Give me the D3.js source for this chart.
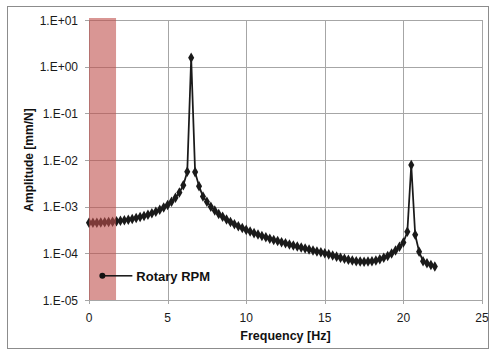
<!DOCTYPE html>
<html>
<head>
<meta charset="utf-8">
<script src="https://cdn.jsdelivr.net/npm/d3@7"></script>
<style>
body{margin:0;background:#fff;}
text{font-family:"Liberation Sans",Arial,sans-serif;}
</style>
</head>
<body>
<svg width="495" height="353"></svg>
<script>
// frequency [Hz] and amplitude [mm/N]
var freq = [0,0.25,0.5,0.75,1,1.25,1.5,1.75,2,2.25,2.5,2.75,3,3.25,3.5,3.75,4,4.25,4.5,4.75,
	5,5.25,5.5,5.75,6,6.25,6.5,6.75,7,7.25,7.5,7.75,8,8.25,8.5,8.75,9,9.25,9.5,9.75,
	10,10.25,10.5,10.75,11,11.25,11.5,11.75,12,12.25,12.5,12.75,13,13.25,13.5,13.75,14,14.25,14.5,14.75,
	15,15.25,15.5,15.75,16,16.25,16.5,16.75,17,17.25,17.5,17.75,18,18.25,18.5,18.75,19,19.25,19.5,19.75,
	20,20.25,20.5,20.75,21,21.25,21.5,21.75,22];
var amp = [4.50e-4,4.51e-4,4.53e-4,4.56e-4,4.61e-4,4.67e-4,4.75e-4,4.85e-4,4.97e-4,5.11e-4,5.27e-4,5.47e-4,5.70e-4,5.98e-4,6.31e-4,6.71e-4,7.20e-4,7.81e-4,8.57e-4,9.55e-4,
	1.09e-3,1.27e-3,1.55e-3,2.01e-3,2.89e-3,5.6e-3,1.55,5.5e-3,2.75e-3,1.65e-3,1.27e-3,1.0e-3,8.3e-4,7.0e-4,6.05e-4,5.3e-4,4.7e-4,4.22e-4,3.82e-4,3.48e-4,
	3.18e-4,2.93e-4,2.71e-4,2.52e-4,2.35e-4,2.2e-4,2.06e-4,1.94e-4,1.83e-4,1.73e-4,1.64e-4,1.55e-4,1.47e-4,1.4e-4,1.33e-4,1.27e-4,1.21e-4,1.15e-4,1.1e-4,1.05e-4,
	1.0e-4,9.5e-5,9.0e-5,8.5e-5,8.05e-5,7.65e-5,7.3e-5,7.0e-5,6.8e-5,6.65e-5,6.6e-5,6.65e-5,6.8e-5,7.05e-5,7.45e-5,8.0e-5,8.8e-5,9.9e-5,1.15e-4,1.38e-4,
	1.7e-4,2.9e-4,7.8e-3,2.5e-4,1.08e-4,6.8e-5,6.1e-5,5.6e-5,5.2e-5];
var xTicks = [0,5,10,15,20,25];
var yTicks = [1e-5,1e-4,1e-3,1e-2,1e-1,1e0,1e1];
var yTickLabels = ["1.E-05","1.E-04","1.E-03","1.E-02","1.E-01","1.E+00","1.E+01"];
var rpmBand = [0,1.72];       // rotary RPM range [Hz]
var rpmLabel = "Rotary RPM";
var rpmPoint = [0.85,3.3e-5]; // where the label's dot sits

var svg = d3.select('svg');
var margin = {left:89,right:13,top:20,bottom:53};
var width = +svg.attr('width');
var height = +svg.attr('height');
var innerwidth = width - margin.left - margin.right;
var innerheight = height - margin.top - margin.bottom;

render = () =>{
	var data = freq.map((f,i) => ({f:f, a:amp[i]}));

	var xscale = d3.scaleLinear().domain([0,25]).range([0,innerwidth]);
	var yscale = d3.scaleLog().domain([1e-5,1e1]).range([innerheight,0]);

	// chart border
	svg.append('rect').attr('x',7.5).attr('y',6.5).attr('width',481).attr('height',342)
		.attr('fill','none').attr('stroke','#8c8c8c');

	var g = svg.append('g').attr('transform',`translate(${margin.left},${margin.top})`);

	// gridlines
	g.append('g').selectAll('line').data(yTicks).enter().append('line')
		.attr('x1',-4).attr('x2',innerwidth)
		.attr('y1',d => Math.round(yscale(d))+0.5).attr('y2',d => Math.round(yscale(d))+0.5)
		.attr('stroke','#a6a6a6');
	g.append('g').selectAll('line').data(xTicks).enter().append('line')
		.attr('x1',d => Math.round(xscale(d))+0.5).attr('x2',d => Math.round(xscale(d))+0.5)
		.attr('y1',0).attr('y2',innerheight+4)
		.attr('stroke','#a6a6a6');

	// tick labels
	g.append('g').selectAll('text').data(yTicks).enter().append('text')
		.attr('x',-11).attr('y',d => yscale(d)+4.5)
		.attr('text-anchor','end').attr('font-size','12px').attr('fill','#1a1a1a')
		.text((d,i) => yTickLabels[i]);
	g.append('g').selectAll('text').data(xTicks).enter().append('text')
		.attr('x',d => xscale(d)).attr('y',innerheight+22)
		.attr('text-anchor','middle').attr('font-size','12px').attr('fill','#1a1a1a')
		.text(d => d);

	// series
	var line = d3.line().x(d => xscale(d.f)).y(d => yscale(d.a));
	g.append('path').datum(data).attr('d',line)
		.attr('fill','none').attr('stroke','#1a1a1a').attr('stroke-width',1.75);
	g.append('g').selectAll('path').data(data).enter().append('path')
		.attr('transform',d => `translate(${xscale(d.f)},${yscale(d.a)})`)
		.attr('d',d3.symbol().type(d3.symbolDiamond).size(32))
		.attr('fill','#1a1a1a');

	// rotary rpm band, drawn over the series with transparency
	g.append('rect')
		.attr('x',xscale(rpmBand[0])).attr('y',yscale(1e1)-2)
		.attr('width',xscale(rpmBand[1])-xscale(rpmBand[0]))
		.attr('height',yscale(1e-5)-yscale(1e1)+2)
		.attr('fill','#c0504d').attr('fill-opacity',0.6);

	// label with dot
	var px = xscale(rpmPoint[0]), py = yscale(rpmPoint[1]);
	g.append('circle').attr('cx',px).attr('cy',py).attr('r',3).attr('fill','#111');
	g.append('line').attr('x1',px).attr('x2',px+30).attr('y1',py).attr('y2',py)
		.attr('stroke','#111').attr('stroke-width',1.5);
	g.append('text').attr('x',px+34).attr('y',py+5)
		.attr('font-size','13px').attr('font-weight','bold').attr('fill','#111')
		.text(rpmLabel);

	// axis titles
	g.append('text').attr('x',innerwidth/2).attr('y',innerheight+40)
		.attr('text-anchor','middle').attr('font-size','12.5px').attr('font-weight','bold').attr('fill','#111')
		.text('Frequency [Hz]');
	g.append('text').attr('transform',`translate(${-56},${innerheight/2}) rotate(-90)`)
		.attr('text-anchor','middle').attr('font-size','12px').attr('font-weight','bold').attr('fill','#111')
		.text('Amplitude [mm/N]');
};

render();
</script>
</body>
</html>
